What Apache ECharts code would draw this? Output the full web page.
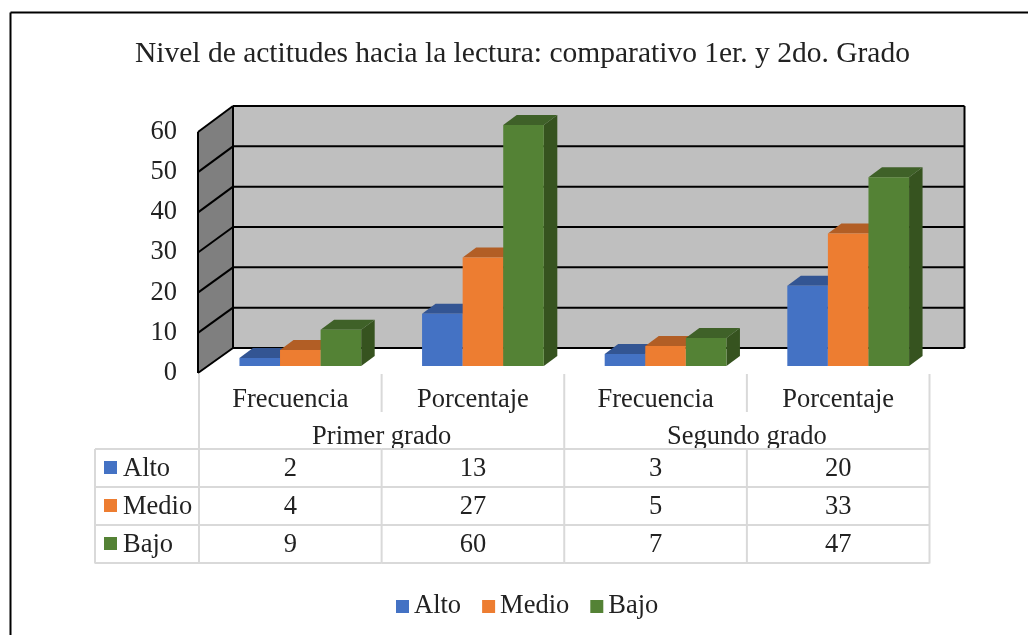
<!DOCTYPE html>
<html>
<head>
<meta charset="utf-8">
<style>
  html, body { margin: 0; padding: 0; background: #fff; }
  #chart { width: 1028px; height: 635px; }
</style>
</head>
<body>
<div id="chart"></div>
<script src="https://cdn.jsdelivr.net/npm/echarts@6/dist/echarts.min.js"></script>
<script>
const categorias = ['Frecuencia', 'Porcentaje', 'Frecuencia', 'Porcentaje'];
const grupos = ['Primer grado', 'Segundo grado'];
const alto = [2, 13, 3, 20];
const medio = [4, 27, 5, 33];
const bajo = [9, 60, 7, 47];
const yTicks = [0, 10, 20, 30, 40, 50, 60];

const nombres = ['Alto', 'Medio', 'Bajo'];
const filas = [alto, medio, bajo];
const frente = ['#4472C4', '#ED7D31', '#548235'];
const tapa = ['#335593', '#B25E25', '#3F6128'];
const lado = ['#2F4F88', '#A3561F', '#36531F'];

const fuente = '"Liberation Serif", "Times New Roman", serif';
const tinta = '#222222';
const TAM = 26.5;

// desplazamientos de la perspectiva, en pixeles
const PARED_X = 35;
const BARRA_X = 13.5, BARRA_Y = -10, BASE_X = 10, BASE_Y = -7;

function paredY(v) {
  return -25 - v / 60;
}

function poly(points, fill) {
  return { type: 'polygon', shape: { points: points }, style: { fill: fill } };
}
function line(x1, y1, x2, y2, color, width) {
  return {
    type: 'line',
    shape: { x1: x1, y1: y1, x2: x2, y2: y2 },
    style: { stroke: color, lineWidth: width }
  };
}

// pared del fondo, pared izquierda y lineas de division
function renderPared(params, api) {
  const band = api.size([1, 0])[0];
  const left = api.coord([0, 0])[0] - band / 2 - 1;
  const right = api.coord([3, 0])[0] + band / 2;
  const v = api.value(1);
  const vMax = yTicks[yTicks.length - 1];
  const y = api.coord([0, v])[1];
  const y0 = api.coord([0, 0])[1];
  const yMax = api.coord([0, vMax])[1];
  const atrasTop = yMax + paredY(vMax);
  const atrasBase = y0 + paredY(0);
  const children = [];
  if (params.dataIndex === 0) {
    children.push(poly([[left + PARED_X, atrasTop], [right + PARED_X, atrasTop],
      [right + PARED_X, atrasBase], [left + PARED_X, atrasBase]], '#BFBFBF'));
    children.push(poly([[left, yMax], [left + PARED_X, atrasTop],
      [left + PARED_X, atrasBase], [left, y0]], '#7F7F7F'));
    children.push(line(left, yMax, left, y0, '#000', 2));
    children.push(line(left + PARED_X, atrasTop, left + PARED_X, atrasBase, '#000', 2));
    children.push(line(right + PARED_X, atrasTop, right + PARED_X, atrasBase, '#000', 2));
  }
  children.push(line(left, y, left + PARED_X, y + paredY(v), '#000', 2));
  children.push(line(left + PARED_X, y + paredY(v), right + PARED_X, y + paredY(v), '#000', 2));
  return { type: 'group', children: children };
}

// barra con frente, tapa y lado
function renderBarra(k) {
  return function (params, api) {
    const i = api.value(0);
    const top = api.coord([i, api.value(1)]);
    const base = api.coord([i, 0]);
    const w = api.size([1, 0])[0] / 4.5;
    const x = top[0] - 1.5 * w + k * w + BASE_X;
    const yt = top[1] + BASE_Y;
    const yb = base[1] + BASE_Y;
    return {
      type: 'group',
      children: [
        poly([[x + w, yt], [x + w + BARRA_X, yt + BARRA_Y], [x + w + BARRA_X, yb + BARRA_Y], [x + w, yb]], lado[k]),
        poly([[x, yt], [x + BARRA_X, yt + BARRA_Y], [x + w + BARRA_X, yt + BARRA_Y], [x + w, yt]], tapa[k]),
        { type: 'rect', shape: { x: x, y: yt, width: w, height: yb - yt }, style: { fill: frente[k] } }
      ]
    };
  };
}

// tabla de datos bajo el eje: una columna por categoria
const TABLA_TOP = 374, FILA_0 = 449, FILA_H = 38, TABLA_LEFT = 95, GROSOR = 2, GRIS = '#D9D9D9';

function celda(texto, x, y, align) {
  return {
    type: 'text',
    style: {
      text: texto, x: x, y: y, align: align, verticalAlign: 'middle',
      font: TAM + 'px ' + fuente, fill: tinta
    }
  };
}

function renderTabla(params, api) {
  const i = api.value(0);
  const band = api.size([1, 0])[0];
  const cx = api.coord([i, 0])[0];
  const xl = cx - band / 2;
  const xr = cx + band / 2;
  const yEnd = FILA_0 + FILA_H * 3 + 0.5;
  const children = [];
  if (i % 2 === 0) {
    children.push(line(xr, TABLA_TOP, xr, TABLA_TOP + 38, GRIS, GROSOR));
    children.push(line(xr, FILA_0, xr, yEnd, GRIS, GROSOR));
  } else {
    children.push(line(xr, TABLA_TOP, xr, yEnd, GRIS, GROSOR));
  }
  if (i === 0) {
    children.push(line(xl, TABLA_TOP, xl, yEnd, GRIS, GROSOR));
    children.push(line(TABLA_LEFT, FILA_0, TABLA_LEFT, yEnd, GRIS, GROSOR));
    for (let r = 0; r < 4; r++) {
      children.push(line(TABLA_LEFT, FILA_0 + FILA_H * r, xr, FILA_0 + FILA_H * r, GRIS, GROSOR));
    }
    filas.forEach(function (f, r) {
      const yc = FILA_0 + FILA_H * r + 19;
      children.push({ type: 'rect', shape: { x: 104, y: yc - 7, width: 13, height: 13 }, style: { fill: frente[r] } });
      children.push(celda(nombres[r], 123, yc + 1, 'left'));
    });
  } else {
    for (let r = 0; r < 4; r++) {
      children.push(line(xl, FILA_0 + FILA_H * r, xr, FILA_0 + FILA_H * r, GRIS, GROSOR));
    }
  }
  filas.forEach(function (f, r) {
    children.push(celda(String(f[i]), cx, FILA_0 + FILA_H * r + 20, 'center'));
  });
  return { type: 'group', children: children };
}

const chart = echarts.init(document.getElementById('chart'));

const series = [
  {
    name: 'pared',
    type: 'custom',
    renderItem: renderPared,
    data: yTicks.map(function (v) { return [0, v]; }),
    encode: { x: 0, y: 1 },
    silent: true,
    z: 1
  }
];
nombres.forEach(function (n, k) {
  series.push({
    name: n,
    type: 'custom',
    renderItem: renderBarra(k),
    data: filas[k].map(function (v, i) { return [i, v]; }),
    encode: { x: 0, y: 1 },
    itemStyle: { color: frente[k] },
    z: 2
  });
});
series.push({
  name: 'tabla',
  type: 'custom',
  renderItem: renderTabla,
  data: categorias.map(function (c, i) { return [i, 0]; }),
  encode: { x: 0, y: 1 },
  silent: true,
  z: 5
});

chart.setOption({
  animation: false,
  backgroundColor: '#ffffff',
  title: {
    text: 'Nivel de actitudes hacia la lectura: comparativo 1er. y 2do. Grado',
    left: 130,
    top: 34,
    textStyle: { fontFamily: fuente, fontSize: 29.5, fontWeight: 'normal', color: tinta }
  },
  legend: {
    data: nombres,
    left: 391,
    top: 588,
    itemWidth: 13,
    itemHeight: 13,
    itemGap: 21,
    icon: 'rect',
    textStyle: { fontFamily: fuente, fontSize: TAM, color: tinta }
  },
  grid: { left: 199, top: 132, width: 730.5, height: 241, containLabel: false },
  xAxis: [
    {
      type: 'category',
      data: categorias,
      axisLine: { show: false },
      axisTick: { show: false },
      axisLabel: { margin: 14, interval: 0, fontFamily: fuente, fontSize: TAM, color: tinta }
    },
    {
      type: 'category',
      position: 'bottom',
      offset: 37,
      data: grupos,
      axisLine: { show: false },
      axisTick: { show: false },
      axisLabel: { margin: 14, interval: 0, fontFamily: fuente, fontSize: TAM, color: tinta }
    }
  ],
  yAxis: {
    type: 'value',
    min: 0,
    max: 60,
    interval: 10,
    axisLine: { show: false },
    axisTick: { show: false },
    splitLine: { show: false },
    axisLabel: { margin: 22, fontFamily: fuente, fontSize: TAM, color: tinta }
  },
  graphic: [
    { type: 'line', shape: { x1: 10.5, y1: 12.5, x2: 1028, y2: 12.5 }, style: { stroke: '#000', lineWidth: 2 } },
    { type: 'line', shape: { x1: 10.5, y1: 12.5, x2: 10.5, y2: 635 }, style: { stroke: '#000', lineWidth: 2 } }
  ],
  series: series
});
</script>
</body>
</html>
